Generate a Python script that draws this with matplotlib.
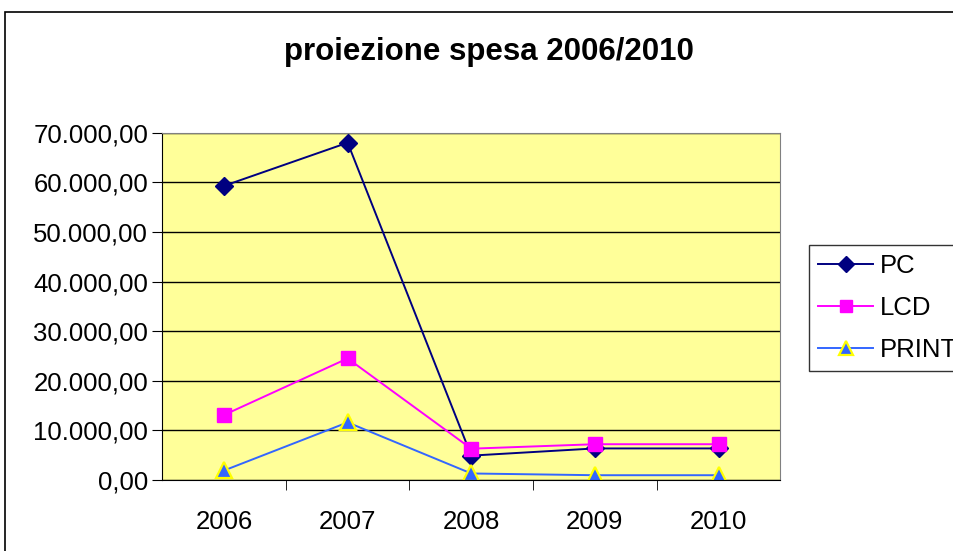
import matplotlib.pyplot as plt
from matplotlib.patches import Rectangle
from matplotlib.ticker import FuncFormatter

years = ['2006', '2007', '2008', '2009', '2010']
pc = [59300, 68000, 4900, 6350, 6350]
lcd = [13100, 24500, 6300, 7200, 7200]
prnt = [1900, 11600, 1300, 950, 950]

plt.rcParams['font.family'] = ['Liberation Sans', 'DejaVu Sans']

fig = plt.figure(figsize=(9.54, 5.51), dpi=100)
ax = fig.add_axes([0.170, 0.129, 0.648, 0.630])

# outer chart border (runs off the right/bottom edge in the original)
fig.patches.append(Rectangle((5 / 954, -0.05), 1.1, 1 - 12 / 551 + 0.05,
                             transform=fig.transFigure, fill=False,
                             edgecolor='black', linewidth=1.2))

ax.set_facecolor('#FFFF99')
x = range(len(years))
ax.plot(x, pc, color='#000080', marker='D', markersize=9, linewidth=1.4, label='PC')
ax.plot(x, lcd, color='#FF00FF', marker='s', markersize=10, linewidth=1.4, label='LCD')
ax.plot(x, prnt, color='#3366FF', marker='^', markersize=11, linewidth=1.4,
        markerfacecolor='#3366FF', markeredgecolor='#FFFF00', markeredgewidth=1.6,
        label='PRINT')

ax.set_xlim(-0.5, 4.5)
ax.set_ylim(0, 70000)
ax.set_yticks(range(0, 70001, 10000))
ax.yaxis.set_major_formatter(FuncFormatter(
    lambda v, p: f"{v:,.2f}".replace(',', 'X').replace('.', ',').replace('X', '.')))
ax.grid(axis='y', color='black', linewidth=1)
ax.set_axisbelow(True)

ax.set_xticks(list(x))
ax.set_xticklabels(years)
ax.set_xticks([0.5, 1.5, 2.5, 3.5], minor=True)
ax.tick_params(axis='x', which='major', length=0, pad=22, labelsize=18.5)
ax.tick_params(axis='x', which='minor', length=7, direction='out', color='black')
ax.tick_params(axis='y', length=7, direction='out', labelsize=18.5, pad=3)

for side in ['top', 'right']:
    ax.spines[side].set_color('#808080')
ax.spines['left'].set_color('black')
ax.spines['bottom'].set_color('black')

fig.text(0.513, 0.905, 'proiezione spesa 2006/2010', ha='center', va='center',
         fontsize=22.5, fontweight='bold')

leg = ax.legend(loc='upper left', bbox_to_anchor=(809 / 954, 1 - 245 / 551),
                bbox_transform=fig.transFigure,
                fontsize=18.5, frameon=True, fancybox=False, edgecolor='black',
                handlelength=2.15, handletextpad=0.25, labelspacing=0.7, borderpad=0.35,
                borderaxespad=0, markerscale=0.9)
leg.get_frame().set_linewidth(1)

fig.savefig('out.png', dpi=100)
